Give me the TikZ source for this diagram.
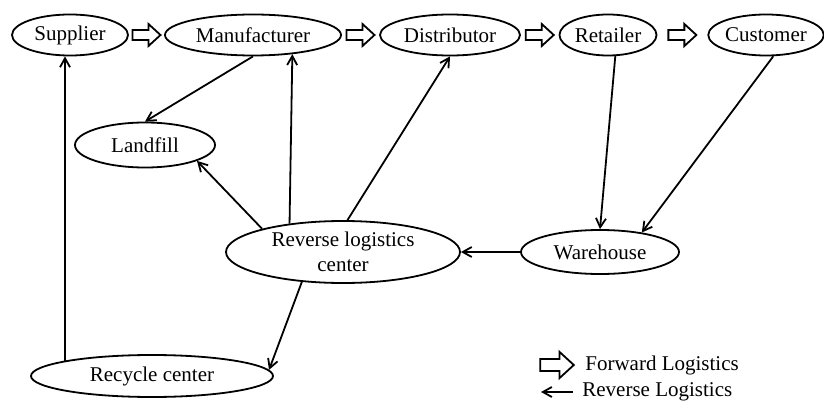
\documentclass[tikz,border=0pt]{standalone}
\usepackage{fontspec}
\setmainfont{Liberation Serif}
\usetikzlibrary{shapes.geometric,arrows.meta,calc}
\begin{document}
\begin{tikzpicture}[x=0.5pt,y=-0.5pt,
    font=\fontsize{10.5}{12.5}\selectfont,
    stage/.style={draw=black, ellipse, line width=0.9pt, inner sep=0pt, align=center},
    revline/.style={draw=black, line width=0.9pt, -{Straight Barb[length=4.5pt,width=5pt]}},
    fwd/.pic={\draw[draw=black, line width=0.9pt] (-14,-5) -- (2,-5) -- (2,-11) -- (14,0) -- (2,11) -- (2,5) -- (-14,5) -- cycle;}]
            \useasboundingbox (0,0) rectangle (824,401);
            \node[stage, minimum width=58pt, minimum height=20.5pt] (sup) at (70,35) {Supplier};
            \node[stage, minimum width=88pt, minimum height=20.5pt] (mfr) at (253,35) {Manufacturer};
            \node[stage, minimum width=70pt, minimum height=20.5pt] (dist) at (450,35) {Distributor};
            \node[stage, minimum width=48.5pt, minimum height=20.5pt] (ret) at (608,35) {Retailer};
            \node[stage, minimum width=57pt, minimum height=20.5pt] (cust) at (766,35) {Customer};
            \node[stage, minimum width=70pt, minimum height=22.5pt] (landfill) at (145,145) {Landfill};
            \node[stage, minimum width=117pt, minimum height=31pt] (rlc) at (343,252) {Reverse logistics\\center};
            \node[stage, minimum width=79pt, minimum height=22pt] (wh) at (600,252) {Warehouse};
            \node[stage, minimum width=121pt, minimum height=21pt] (rec) at (152,376) {Recycle center};
            \foreach \a/\b in {sup/mfr, mfr/dist, dist/ret, ret/cust}
                \pic at ($(\a.east)!0.5!(\b.west)$) {fwd};
            \draw[revline] (rec.170) -- (rec.170 |- sup.south);
            \draw[revline] (mfr.south) -- (landfill.north);
            \draw[revline] (rlc.152.5) -- (mfr.-26.7);
            \draw[revline] (rlc.164.5) -- (landfill.-17.5);
            \draw[revline] (rlc.82) -- (dist.south);
            \draw[revline] (rlc.216) -- (rec.3.2);
            \draw[revline] (ret.-71) -- (wh.north);
            \draw[revline] (cust.-71) -- (wh.25.4);
            \draw[revline] (wh.west) -- (rlc.east);
            \pic[scale=1.2] at (557,365) {fwd};
            \node[anchor=west, inner sep=0pt] (fwdtext) at (585,365) {Forward Logistics};
            \coordinate (revstart) at (573,392);
            \coordinate (revend) at (541,392);
            \draw[revline] (revstart) -- (revend);
            \node[anchor=west, inner sep=0pt] (revtext) at (582,392) {Reverse Logistics};
        \end{tikzpicture}
\end{document}
